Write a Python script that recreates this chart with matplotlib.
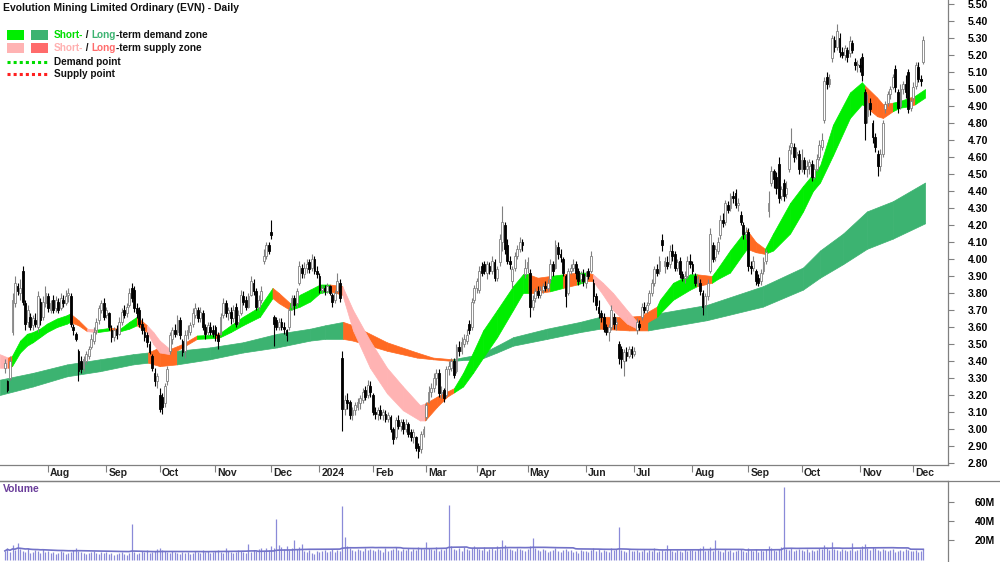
import numpy as np
import pandas as pd
import matplotlib
matplotlib.use('Agg')
import matplotlib.pyplot as plt
import matplotlib.transforms as mtrans
from matplotlib.patches import Rectangle
from matplotlib.lines import Line2D

plt.rcParams['font.family'] = ['Liberation Sans', 'DejaVu Sans']

title = "Evolution Mining Limited Ordinary (EVN) - Daily"
holidays = ['2023-12-25', '2023-12-26', '2024-01-01', '2024-01-26',
            '2024-03-29', '2024-04-01', '2024-04-25', '2024-06-10']

opens = [
    3.36,3.28,3.30,3.57,3.74,3.84,3.80,3.93,3.74,3.63,3.66,3.61,3.64,3.60,3.75,3.66,3.74,
    3.78,3.70,3.76,3.71,3.75,3.71,3.76,3.74,3.79,3.78,3.60,3.56,3.46,3.40,3.36,3.40,3.43,3.48,3.52,3.58,3.64,3.70,3.74,
    3.67,3.68,3.58,3.54,3.59,3.56,3.63,3.70,3.68,3.73,3.83,3.82,3.71,3.70,3.62,3.57,3.55,3.50,3.43,3.33,3.28,
    3.20,3.19,3.15,3.28,3.46,3.53,3.58,3.57,3.64,3.52,3.46,3.55,3.57,3.62,3.67,3.70,3.65,3.68,3.60,3.57,3.60,3.58,
    3.60,3.55,3.56,3.67,3.74,3.68,3.69,3.65,3.72,3.63,3.68,3.78,3.76,3.72,3.79,3.86,3.81,3.72,3.76,3.99,4.02,4.08,
    4.16,3.66,3.64,3.60,3.63,3.60,3.58,3.60,3.72,3.77,3.74,3.86,3.95,3.91,3.95,3.98,3.95,4.00,3.93,
    3.90,3.82,3.83,3.81,3.84,3.79,3.76,3.81,3.86,3.42,3.12,3.17,3.16,3.08,3.11,3.13,3.15,3.17,3.23,3.20,3.25,
    3.20,3.10,3.09,3.11,3.08,3.09,3.06,3.07,3.00,2.95,3.05,3.02,3.04,3.00,3.03,2.98,2.95,2.95,2.90,2.88,2.97,
    3.07,3.16,3.22,3.24,3.30,3.33,3.21,3.23,3.20,3.35,3.36,3.40,3.34,3.48,3.46,3.50,3.52,3.62,3.60,3.76,
    3.83,3.82,3.96,3.97,3.92,3.96,3.93,3.98,3.89,3.98,4.10,4.20,4.08,3.99,3.87,3.95,4.02,4.06,4.10,3.91,
    3.95,3.92,3.72,3.77,3.81,3.79,3.82,3.84,3.83,3.88,3.97,3.95,4.07,4.03,4.00,3.90,3.80,3.93,3.95,3.97,3.93,3.88,3.91,
    3.86,3.93,3.93,3.86,3.78,3.72,3.68,3.66,3.60,3.57,3.60,3.66,3.62,3.50,3.47,3.40,3.45,3.43,3.47,
    3.44,3.58,3.62,3.66,3.72,3.70,3.74,3.80,3.86,3.94,3.93,4.11,3.96,3.98,3.97,4.05,4.03,3.95,3.99,3.91,3.89,3.90,3.99,
    3.97,3.90,3.86,3.86,3.80,3.73,3.78,3.93,4.08,4.01,4.05,4.14,4.23,4.22,4.32,4.30,4.37,4.39,4.32,4.26,4.20,4.15,
    4.16,3.96,3.95,3.93,3.89,3.87,3.93,3.99,4.28,4.45,4.52,4.48,4.56,4.37,4.45,4.38,4.53,4.66,4.66,4.61,4.62,
    4.53,4.58,4.53,4.55,4.56,4.48,4.53,4.60,4.66,4.82,5.07,5.03,5.18,5.29,5.25,5.30,5.22,5.20,5.23,5.21,5.27,5.16,5.14,
    5.14,5.19,4.98,4.84,4.92,4.80,4.72,4.62,4.55,4.62,4.88,4.92,4.97,5.01,5.12,4.98,4.90,5.00,5.03,5.10,4.89,
    4.95,5.02,5.13,5.06,5.16,
]
highs = [
    3.41,3.29,3.43,3.80,3.90,3.86,3.88,3.96,3.76,3.73,3.68,3.67,3.68,3.81,3.77,3.78,3.84,
    3.80,3.76,3.79,3.78,3.77,3.80,3.79,3.82,3.83,3.80,3.62,3.57,3.47,3.43,3.43,3.46,3.49,3.56,3.60,3.65,3.73,3.76,3.77,
    3.72,3.69,3.61,3.60,3.61,3.66,3.71,3.73,3.74,3.83,3.86,3.84,3.74,3.72,3.65,3.60,3.57,3.52,3.44,3.36,3.33,
    3.24,3.21,3.27,3.37,3.57,3.60,3.62,3.67,3.66,3.53,3.58,3.61,3.63,3.71,3.74,3.72,3.72,3.70,3.62,3.63,3.63,3.61,
    3.61,3.57,3.68,3.77,3.76,3.72,3.72,3.73,3.74,3.70,3.82,3.81,3.78,3.80,3.90,3.88,3.83,3.79,3.84,4.06,4.10,4.10,
    4.23,3.67,3.66,3.65,3.65,3.63,3.59,3.72,3.79,3.79,3.83,3.99,3.97,3.98,4.00,4.00,4.03,4.02,3.96,
    3.92,3.85,3.85,3.86,3.85,3.80,3.82,3.92,3.88,3.46,3.20,3.21,3.17,3.13,3.16,3.18,3.20,3.24,3.25,3.29,3.28,
    3.21,3.13,3.13,3.14,3.12,3.11,3.10,3.08,3.01,3.07,3.08,3.06,3.06,3.06,3.04,3.00,3.00,2.96,2.92,2.99,3.02,
    3.16,3.25,3.27,3.33,3.35,3.35,3.25,3.24,3.37,3.40,3.42,3.42,3.50,3.52,3.54,3.56,3.59,3.64,3.77,3.85,
    3.89,3.96,3.98,3.99,3.99,3.98,4.02,4.00,3.96,4.15,4.31,4.22,4.12,4.02,3.96,4.04,4.08,4.13,4.12,4.00,
    4.01,3.94,3.79,3.83,3.84,3.84,3.86,3.87,3.88,4.00,3.99,4.11,4.10,4.06,4.01,3.91,3.95,3.97,4.00,3.99,3.95,3.93,3.94,
    3.93,3.95,4.05,3.88,3.80,3.76,3.70,3.68,3.62,3.62,3.73,3.68,3.66,3.52,3.49,3.47,3.48,3.49,3.49,
    3.48,3.65,3.64,3.74,3.75,3.75,3.82,3.88,3.96,3.97,4.02,4.15,4.01,4.02,4.08,4.09,4.05,4.00,4.01,3.93,3.93,4.02,4.03,
    3.99,3.92,3.90,3.88,3.82,3.80,3.88,4.18,4.10,4.08,4.13,4.26,4.27,4.35,4.34,4.39,4.40,4.41,4.36,4.28,4.22,4.19,
    4.18,3.99,4.02,3.94,3.91,3.94,4.01,4.06,4.40,4.55,4.53,4.51,4.60,4.43,4.47,4.46,4.67,4.77,4.68,4.66,4.64,
    4.65,4.60,4.58,4.59,4.58,4.56,4.62,4.70,4.74,5.07,5.10,5.09,5.32,5.31,5.38,5.33,5.25,5.26,5.25,5.31,5.29,5.18,5.17,
    5.18,5.21,5.00,4.97,4.95,4.82,4.74,4.64,4.65,4.82,4.93,4.99,5.02,5.09,5.14,5.00,5.03,5.05,5.08,5.12,4.95,
    5.04,5.16,5.16,5.08,5.31,
]
lows = [
    3.33,3.22,3.29,3.55,3.72,3.79,3.76,3.73,3.58,3.60,3.58,3.58,3.60,3.57,3.61,3.64,3.72,
    3.69,3.68,3.68,3.69,3.68,3.70,3.72,3.73,3.75,3.60,3.55,3.52,3.28,3.33,3.34,3.38,3.41,3.47,3.50,3.56,3.62,3.68,3.64,
    3.65,3.58,3.51,3.52,3.53,3.55,3.61,3.65,3.66,3.72,3.75,3.69,3.65,3.60,3.56,3.52,3.48,3.44,3.34,3.25,3.24,
    3.10,3.09,3.13,3.26,3.44,3.50,3.54,3.55,3.53,3.43,3.42,3.53,3.55,3.60,3.65,3.63,3.63,3.58,3.53,3.55,3.55,3.54,
    3.52,3.47,3.55,3.65,3.66,3.64,3.62,3.63,3.60,3.61,3.67,3.73,3.70,3.71,3.78,3.79,3.70,3.70,3.74,3.97,4.00,4.03,
    4.12,3.49,3.58,3.58,3.58,3.56,3.52,3.58,3.70,3.67,3.72,3.85,3.89,3.89,3.92,3.92,3.93,3.91,3.89,
    3.80,3.80,3.79,3.80,3.79,3.72,3.74,3.80,3.75,2.99,3.08,3.12,3.06,3.05,3.08,3.11,3.12,3.15,3.17,3.18,3.19,
    3.08,3.06,3.05,3.06,3.05,3.04,3.04,2.98,2.91,2.94,3.00,2.99,2.97,2.98,2.95,2.93,2.92,2.87,2.83,2.86,2.95,
    3.05,3.15,3.19,3.22,3.26,3.19,3.18,3.16,3.19,3.32,3.34,3.30,3.33,3.43,3.44,3.48,3.50,3.56,3.58,3.74,
    3.80,3.80,3.90,3.91,3.88,3.91,3.91,3.87,3.87,3.96,4.05,4.03,3.97,3.94,3.83,3.93,4.00,4.04,4.05,3.89,
    3.92,3.66,3.70,3.75,3.77,3.77,3.80,3.81,3.81,3.86,3.90,3.94,4.00,3.98,3.90,3.72,3.79,3.91,3.93,3.88,3.85,3.86,3.84,
    3.83,3.88,3.92,3.75,3.70,3.65,3.63,3.57,3.55,3.52,3.58,3.59,3.58,3.38,3.36,3.31,3.40,3.42,3.42,
    3.43,3.56,3.58,3.64,3.68,3.68,3.73,3.78,3.84,3.90,3.91,4.05,3.92,3.94,3.95,3.99,3.93,3.93,3.89,3.87,3.86,3.89,3.95,
    3.91,3.84,3.84,3.79,3.67,3.71,3.76,3.92,3.98,3.99,4.03,4.12,4.19,4.20,4.27,4.28,4.33,4.30,4.28,4.20,4.12,4.12,
    3.93,3.91,3.93,3.85,3.84,3.85,3.91,3.97,4.25,4.43,4.42,4.38,4.33,4.35,4.34,4.36,4.51,4.62,4.57,4.59,4.50,
    4.51,4.50,4.48,4.50,4.46,4.47,4.52,4.58,4.64,4.80,5.00,5.01,5.16,5.22,5.23,5.19,5.18,5.17,5.16,5.19,5.21,5.11,5.10,
    5.10,5.05,4.70,4.80,4.85,4.68,4.63,4.49,4.52,4.60,4.86,4.90,4.94,5.00,4.98,4.86,4.88,4.97,4.95,4.86,4.87,
    4.93,5.00,5.04,5.02,5.15,
]
closes = [
    3.39,3.23,3.40,3.76,3.86,3.81,3.83,3.75,3.62,3.70,3.60,3.65,3.62,3.78,3.64,3.75,3.80,
    3.71,3.74,3.70,3.76,3.70,3.77,3.74,3.78,3.80,3.62,3.58,3.53,3.34,3.35,3.41,3.44,3.47,3.53,3.57,3.63,3.71,3.74,3.66,
    3.70,3.60,3.54,3.58,3.55,3.63,3.69,3.67,3.72,3.80,3.77,3.71,3.68,3.62,3.58,3.54,3.51,3.45,3.36,3.28,3.31,
    3.12,3.13,3.25,3.35,3.55,3.58,3.56,3.64,3.55,3.45,3.55,3.58,3.61,3.68,3.71,3.65,3.69,3.60,3.56,3.61,3.57,3.56,
    3.55,3.52,3.66,3.74,3.68,3.70,3.65,3.70,3.62,3.67,3.79,3.75,3.72,3.78,3.87,3.81,3.72,3.76,3.81,4.02,4.08,4.05,
    4.14,3.62,3.60,3.63,3.60,3.59,3.55,3.70,3.77,3.73,3.81,3.96,3.92,3.95,3.97,3.94,4.00,3.93,3.91,
    3.82,3.83,3.81,3.84,3.80,3.75,3.80,3.87,3.77,3.12,3.17,3.15,3.08,3.11,3.14,3.16,3.18,3.22,3.19,3.26,3.22,
    3.10,3.09,3.11,3.08,3.10,3.06,3.08,3.00,2.94,3.05,3.02,3.04,3.00,3.03,2.97,2.95,2.98,2.89,2.87,2.97,3.00,
    3.14,3.22,3.24,3.30,3.33,3.21,3.22,3.18,3.35,3.37,3.40,3.32,3.48,3.46,3.51,3.53,3.55,3.58,3.75,3.83,
    3.87,3.93,3.92,3.93,3.97,3.93,3.99,3.89,3.94,4.12,4.22,4.06,3.99,3.97,3.94,4.02,4.06,4.10,4.08,3.95,
    3.98,3.72,3.76,3.81,3.79,3.82,3.84,3.83,3.86,3.97,3.93,4.08,4.03,4.01,3.92,3.78,3.93,3.95,3.97,3.92,3.87,3.91,3.87,
    3.90,3.90,4.02,3.78,3.73,3.68,3.66,3.59,3.57,3.60,3.70,3.62,3.63,3.42,3.41,3.45,3.43,3.47,3.44,
    3.46,3.63,3.60,3.72,3.70,3.73,3.80,3.86,3.94,3.92,3.99,4.08,3.99,3.96,4.05,4.02,3.95,3.98,3.91,3.89,3.90,3.99,3.97,
    3.93,3.86,3.88,3.81,3.72,3.78,3.86,4.15,4.00,4.06,4.10,4.23,4.21,4.33,4.29,4.37,4.36,4.32,4.33,4.22,4.15,4.16,
    3.96,3.95,3.99,3.87,3.86,3.92,3.98,4.04,4.33,4.52,4.47,4.42,4.36,4.41,4.37,4.42,4.64,4.68,4.60,4.63,4.53,
    4.58,4.53,4.55,4.57,4.48,4.53,4.59,4.67,4.70,5.05,5.03,5.06,5.30,5.25,5.34,5.22,5.20,5.24,5.19,5.28,5.23,5.14,5.15,
    5.13,5.08,4.80,4.92,4.88,4.72,4.66,4.55,4.62,4.80,4.91,4.97,5.00,5.07,5.01,4.89,5.00,5.03,4.98,4.88,4.93,
    5.01,5.14,5.06,5.05,5.29,
]
# volume in millions of shares
volumes = [
    9,12,8,15,10,17,11,9,8,12,7,8,10,9,7,11,8,
    9,7,8,6,7,9,8,6,7,8,10,12,9,8,7,6,7,8,9,7,6,8,7,
    8,6,7,5,6,7,8,6,5,7,37,8,6,7,9,8,10,7,8,9,11,
    12,10,9,8,7,9,8,7,6,8,7,8,6,7,9,8,7,10,8,9,7,8,
    9,10,8,7,12,9,8,7,8,10,9,8,7,16,8,10,9,11,12,9,12,10,
    14,12,42,15,13,11,14,10,12,20,11,13,16,9,8,10,7,6,9,
    8,9,10,8,9,11,8,10,9,55,23,14,12,10,9,11,10,9,12,10,11,
    10,9,11,10,8,12,9,10,11,13,10,9,11,10,12,9,11,10,13,12,11,
    18,12,11,10,13,9,11,10,12,57,14,11,10,12,9,13,11,10,12,14,
    12,11,10,13,9,11,12,10,14,11,20,15,12,11,10,9,12,11,10,9,
    11,14,22,12,10,9,11,10,8,9,10,12,9,8,10,11,9,10,8,9,7,10,9,
    9,8,10,12,9,11,8,10,9,8,12,10,11,34,10,9,8,11,9,
    9,10,8,9,11,8,10,9,12,8,9,10,9,15,11,9,8,10,9,8,11,9,10,
    10,9,11,12,14,9,10,13,9,20,10,9,8,11,9,10,8,9,10,11,9,8,
    12,10,9,11,8,10,9,11,14,12,10,9,11,13,75,11,10,12,9,10,11,
    10,9,11,8,10,9,10,12,11,15,12,10,18,11,10,9,11,10,9,10,17,9,10,
    11,14,16,12,10,13,12,10,9,11,10,9,10,11,8,9,10,9,11,10,9,
    9,10,8,9,11,
]

# short-term zone (two edges, read at trading-day positions) and zone type per segment
st_pos = [-2, 1.2, 2.8, 6, 8.7, 11, 13.8, 16.6, 20.5, 24.5, 25.7, 29, 32.4, 36.5, 41.4, 45.4, 49, 52, 56,
          58.5, 61, 65, 70, 75.7, 82.8, 84.8, 89, 93.8, 100.5, 105.5, 108, 112.4, 116.3, 120.3, 124.2,
          128.1, 133.0, 137.2, 143.9, 150.6, 156.9, 163.6, 165.6, 170.3, 174.3, 177, 180.6, 184.5, 188.5,
          194, 200.3, 204.2, 206.4, 210, 214.9, 220, 225.5, 229.5, 231.8, 235.7, 239.7, 245.2, 249.2,
          252.3, 257, 258.2, 263.4, 270.1, 272.8, 278.7, 280.7, 285.8, 291, 292.5, 296, 299.6, 302.8,
          309.5, 314.6, 318.5, 321.3, 326.4, 333.1, 337.8, 339, 343.8, 346.1, 350, 352.8, 356.8, 358.7, 362.7]
st_hi = [3.44, 3.42, 3.43, 3.52, 3.56, 3.57, 3.59, 3.62, 3.65, 3.67, 3.68, 3.64, 3.59, 3.585, 3.595, 3.59,
         3.63, 3.66, 3.61, 3.57, 3.52, 3.47, 3.50, 3.55, 3.555, 3.565, 3.61, 3.66, 3.72, 3.83, 3.80, 3.74,
         3.79, 3.82, 3.85, 3.85, 3.84, 3.70, 3.52, 3.36, 3.25, 3.14, 3.15, 3.19, 3.22, 3.24, 3.33, 3.45,
         3.58, 3.70, 3.84, 3.91, 3.91, 3.89, 3.90, 3.91, 3.92, 3.92, 3.91, 3.86, 3.80, 3.70, 3.63, 3.68,
         3.72, 3.76, 3.86, 3.91, 3.91, 3.90, 3.94, 4.05, 4.15, 4.17, 4.10, 4.06, 4.15, 4.33, 4.43, 4.50,
         4.55, 4.79, 4.98, 5.04, 5.02, 4.95, 4.91, 4.92, 4.93, 4.95, 4.96, 5.00]
st_lo = [3.36, 3.36, 3.37, 3.45, 3.49, 3.51, 3.54, 3.57, 3.60, 3.62, 3.63, 3.61, 3.575, 3.57, 3.58, 3.575,
         3.59, 3.61, 3.57, 3.50, 3.45, 3.44, 3.48, 3.53, 3.535, 3.54, 3.57, 3.61, 3.66, 3.77, 3.74, 3.70,
         3.72, 3.75, 3.80, 3.81, 3.79, 3.58, 3.36, 3.21, 3.11, 3.05, 3.05, 3.13, 3.19, 3.215, 3.25, 3.33,
         3.42, 3.54, 3.70, 3.80, 3.80, 3.80, 3.81, 3.83, 3.85, 3.87, 3.87, 3.79, 3.70, 3.62, 3.59, 3.62,
         3.66, 3.68, 3.76, 3.82, 3.84, 3.86, 3.88, 3.92, 4.03, 4.06, 4.04, 4.03, 4.05, 4.15, 4.28, 4.40,
         4.45, 4.61, 4.83, 4.91, 4.90, 4.84, 4.83, 4.87, 4.89, 4.90, 4.91, 4.95]
st_zone = "POGGGGGGGGOOPGOGGOPPPOOGOGGGGOOGGGGOPPPPPPOOOGGGGGGGOOGOGOPPPPOOGGGGOGGGGOOGGGGGGGGGOOOGGOGG"

# long-term zone
lt_pos = [-2, 11, 24.5, 37.5, 50.5, 56.4, 61, 67.8, 80.8, 93.8, 107.3, 120.3, 126.2, 133.3, 137.2,
          150.6, 162.4, 168.7, 176.6, 180, 187.3, 194, 200.3, 213.7, 226.7, 234.6, 246, 253.5, 276.7,
          298.8, 314.6, 321.3, 330.4, 339.8, 350, 362.7]
lt_hi = [3.29, 3.33, 3.38, 3.41, 3.44, 3.45, 3.48, 3.46, 3.48, 3.51, 3.56, 3.59, 3.61, 3.63, 3.61, 3.51,
         3.45, 3.42, 3.41, 3.42, 3.44, 3.49, 3.54, 3.59, 3.63, 3.66, 3.66, 3.67, 3.73, 3.84, 3.95, 4.05,
         4.15, 4.28, 4.34, 4.45]
lt_lo = [3.20, 3.25, 3.31, 3.34, 3.38, 3.39, 3.37, 3.38, 3.41, 3.45, 3.48, 3.52, 3.53, 3.53, 3.52, 3.46,
         3.42, 3.41, 3.40, 3.405, 3.41, 3.45, 3.49, 3.53, 3.57, 3.59, 3.58, 3.58, 3.64, 3.72, 3.82, 3.89,
         3.97, 4.06, 4.12, 4.21]
lt_zone = "DDDDDOODDDDDDOOOOODDDDDDDOODDDDDDDD"

ZONE_COL = {'G': '#00ee00', 'D': '#3cb371', 'P': '#ffb3b3', 'O': '#ff6a22', 'R': '#ff6b6b'}

# ---------------------------------------------------------------- layout
W, H = 1000, 562
fig = plt.figure(figsize=(W / 100, H / 100), dpi=100)


def rect(x0, y0, x1, y1):
    return [x0 / W, 1 - y1 / H, (x1 - x0) / W, (y1 - y0) / H]


ax = fig.add_axes(rect(0, 0, 948, 465))
axv = fig.add_axes(rect(0, 481, 948, 562), sharex=ax)

dates = pd.bdate_range('2023-07-07', '2024-12-06')
dates = dates[~dates.isin(pd.to_datetime(holidays))]
assert len(dates) == len(closes) == len(opens) == len(highs) == len(lows) == len(volumes), \
    (len(dates), len(opens), len(highs), len(lows), len(closes), len(volumes))
n = len(closes)
idx = np.arange(n)

o = np.array(opens); h = np.array(highs); l = np.array(lows); c = np.array(closes)


def draw_band(axis, pos, hi, lo, zone, z):
    for i in range(len(pos) - 1):
        col = ZONE_COL[zone[i]]
        axis.fill_between(pos[i:i + 2], lo[i:i + 2], hi[i:i + 2], facecolor=col,
                          edgecolor=col, linewidth=0.5, zorder=z)


draw_band(ax, lt_pos, lt_hi, lt_lo, lt_zone, 1)
draw_band(ax, st_pos, st_hi, st_lo, st_zone, 2)

up = c >= o
body_lo = np.minimum(o, c)
body_h = np.maximum(np.abs(c - o), 0.006)
wick_hi = np.maximum(h, np.maximum(o, c))
wick_lo = np.minimum(l, np.minimum(o, c))
ax.vlines(idx[up], wick_lo[up], wick_hi[up], color='#808080', linewidth=0.8, zorder=3)
ax.vlines(idx[~up], wick_lo[~up], wick_hi[~up], color='#000000', linewidth=0.8, zorder=3)
ax.bar(idx[up], body_h[up], bottom=body_lo[up], width=0.72, facecolor='white',
       edgecolor='#808080', linewidth=0.6, zorder=4)
ax.bar(idx[~up], body_h[~up], bottom=body_lo[~up], width=0.72, facecolor='black',
       edgecolor='black', linewidth=0.6, zorder=4)

x_lo = -4.9 / 2.537
x_hi = (948 - 4.9) / 2.537
ax.set_xlim(x_lo, x_hi)
ax.set_ylim(2.788, 5.524)

# price axis on the right
yt = np.round(np.arange(2.80, 5.501, 0.10), 2)
ax.set_yticks(yt)
ax.set_yticklabels([f"{v:.2f}" for v in yt])
ax.yaxis.tick_right()
ax.tick_params(axis='y', direction='out', length=4, width=0.8, color='#808080',
               labelsize=7.5, pad=10)
for lab in ax.get_yticklabels():
    lab.set_fontweight('bold')
for s in ['left', 'top']:
    ax.spines[s].set_visible(False)
for s in ['right', 'bottom']:
    ax.spines[s].set_color('#808080')
    ax.spines[s].set_linewidth(0.9)

# month ticks
months = dates.to_period('M')
starts = [i for i in range(1, n) if months[i] != months[i - 1]]
ax.set_xticks(starts)
ax.tick_params(axis='x', direction='out', length=5, width=0.8, color='#808080',
               labelbottom=False)
trans = mtrans.blended_transform_factory(ax.transData, fig.transFigure)
offset = mtrans.ScaledTranslation(2 / 100, 0, fig.dpi_scale_trans)
for i in starts:
    d = dates[i]
    name = str(d.year) if d.month == 1 else d.strftime('%b')
    fig.text(i, 1 - 473 / H, name, transform=trans + offset, ha='left', va='center',
             fontsize=7.5, fontweight='bold', color='#222222')

# volume
vol = np.array(volumes, dtype=float)
axv.vlines(idx, 0, vol, color='#8a8ad8', linewidth=0.9)
vavg = pd.Series(vol).rolling(50, min_periods=1).mean()
axv.plot(idx, vavg, color='#7272c8', linewidth=1.2)
axv.set_ylim(-2.5, 81.4)
axv.set_yticks([20, 40, 60])
axv.set_yticklabels(['20M', '40M', '60M'])
axv.yaxis.tick_right()
axv.tick_params(axis='y', direction='out', length=4, width=0.8, color='#808080',
                labelsize=7.5, pad=15)
for lab in axv.get_yticklabels():
    lab.set_fontweight('bold')
axv.tick_params(axis='x', bottom=False, labelbottom=False)
for s in ['left', 'bottom']:
    axv.spines[s].set_visible(False)
for s in ['right', 'top']:
    axv.spines[s].set_color('#808080')
    axv.spines[s].set_linewidth(0.9)
fig.add_artist(Line2D([0, 1], [1 - 481 / H, 1 - 481 / H], color='#808080', linewidth=0.9))
axv.text(3 / 948, 1 - 8 / 81, 'Volume', transform=axv.transAxes, ha='left', va='center',
         fontsize=7.5, fontweight='bold', color='#6a3d9a')

# title and legend
fig.text(3 / W, 1 - 8 / H, title, ha='left', va='center', fontsize=7.5,
         fontweight='bold', color='#111111')


def fx(px):
    return px / W


def fy(py):
    return 1 - py / H


for (x0, x1, y0, y1, col) in [(7, 24, 30, 40, ZONE_COL['G']), (31, 48, 30, 40, ZONE_COL['D']),
                              (7, 24, 43, 53, ZONE_COL['P']), (31, 48, 43, 53, ZONE_COL['R'])]:
    fig.add_artist(Rectangle((fx(x0), fy(y1)), fx(x1) - fx(x0), fy(y0) - fy(y1),
                             transform=fig.transFigure, facecolor=col, edgecolor='none'))
fig.add_artist(Line2D([fx(7), fx(48)], [fy(62), fy(62)], color='#00dd00', linewidth=2.2,
                      linestyle=(0, (1, 1))))
fig.add_artist(Line2D([fx(7), fx(48)], [fy(74), fy(74)], color='#ff2020', linewidth=2.2,
                      linestyle=(0, (1, 1))))

renderer = fig.canvas.get_renderer()


def multi_text(x_px, y_px, parts):
    x = x_px
    for s, col in parts:
        t = fig.text(fx(x), fy(y_px), s, ha='left', va='center', fontsize=7.2,
                     fontweight='bold', color=col)
        bb = t.get_window_extent(renderer=renderer)
        x += bb.width


multi_text(54, 35, [('Short-', '#00dd00'), (' / ', '#111111'), ('Long', '#3cb371'),
                    ('-term demand zone', '#111111')])
multi_text(54, 48, [('Short-', '#ffb0b0'), (' / ', '#111111'), ('Long', '#ff6b6b'),
                    ('-term supply zone', '#111111')])
multi_text(54, 62, [('Demand point', '#111111')])
multi_text(54, 74, [('Supply point', '#111111')])

fig.savefig('out.png', dpi=100)
